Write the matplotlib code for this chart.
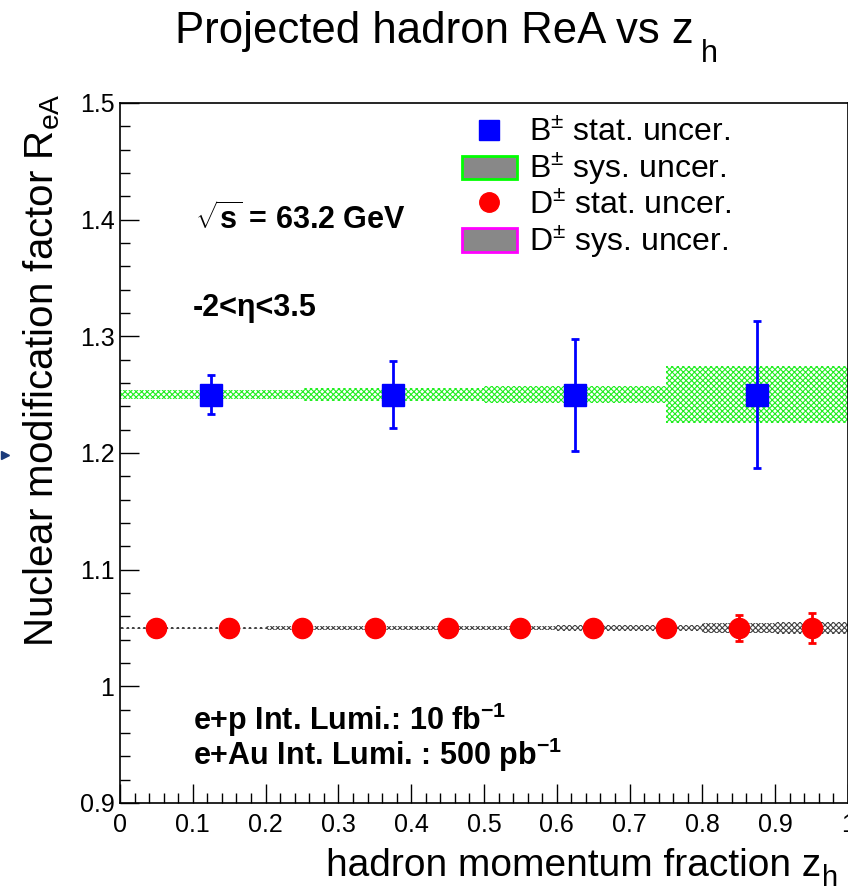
import numpy as np
import matplotlib
matplotlib.use("Agg")
import matplotlib.pyplot as plt
from matplotlib.patches import Rectangle, Patch
from matplotlib.lines import Line2D
from matplotlib.ticker import MultipleLocator

plt.rcParams['font.family'] = ['Liberation Sans', 'DejaVu Sans']
plt.rcParams['mathtext.fontset'] = 'custom'
plt.rcParams['mathtext.rm'] = 'Liberation Sans'
plt.rcParams['mathtext.it'] = 'Liberation Sans:italic'
plt.rcParams['mathtext.bf'] = 'Liberation Sans:bold'
plt.rcParams['hatch.linewidth'] = 0.8

# B meson points (4 bins of z_h)
b_edges = [0.0, 0.25, 0.5, 0.75, 1.0]
b_x = [0.125, 0.375, 0.625, 0.875]
b_y = [1.25, 1.25, 1.25, 1.25]
b_stat = [0.017, 0.029, 0.048, 0.063]
b_sys = [0.0038, 0.0055, 0.007, 0.0245]

# D meson points (10 bins of z_h)
d_edges = [0.0, 0.1, 0.2, 0.3, 0.4, 0.5, 0.6, 0.7, 0.8, 0.9, 1.0]
d_x = [0.05, 0.15, 0.25, 0.35, 0.45, 0.55, 0.65, 0.75, 0.85, 0.95]
d_y = [1.05] * 10
d_stat = [0.001, 0.001, 0.0015, 0.002, 0.002, 0.003, 0.004, 0.005, 0.0115, 0.0127]
d_sys = [0.0012, 0.0012, 0.0013, 0.0014, 0.0015, 0.0017, 0.0025, 0.0028, 0.0045, 0.0055]

fig = plt.figure(figsize=(8.48, 8.92), dpi=100)
ax = fig.add_axes([120/848, 1 - 803/892, 728/848, 700/892])

# systematic bands
for i in range(len(b_x)):
    lo, hi = b_edges[i], b_edges[i + 1]
    ax.add_patch(Rectangle((lo, b_y[i] - b_sys[i]), hi - lo, 2 * b_sys[i],
                           facecolor='white', edgecolor='#22ee22', hatch='xxxxxx',
                           linewidth=0, zorder=1))
for i in range(len(d_x)):
    lo, hi = d_edges[i], d_edges[i + 1]
    ax.add_patch(Rectangle((lo, d_y[i] - d_sys[i]), hi - lo, 2 * d_sys[i],
                           facecolor='white', edgecolor='#444444', hatch='xxxxxx',
                           linewidth=0, zorder=1))

# statistical points
ax.errorbar(b_x, b_y, yerr=b_stat, fmt='s', color='#0000ff', markersize=15.5,
            elinewidth=2, capsize=3, capthick=2, zorder=3)
ax.errorbar(d_x, d_y, yerr=d_stat, fmt='o', color='#ff0000', markersize=14.5,
            elinewidth=2, capsize=3, capthick=2, zorder=3)

ax.set_xlim(0, 1)
ax.set_ylim(0.9, 1.5)
ax.xaxis.set_major_locator(MultipleLocator(0.1))
ax.xaxis.set_minor_locator(MultipleLocator(0.02))
ax.yaxis.set_major_locator(MultipleLocator(0.1))
ax.yaxis.set_minor_locator(MultipleLocator(0.02))
ax.xaxis.set_major_formatter(plt.FuncFormatter(lambda v, p: ('%g' % round(v, 2))))
ax.yaxis.set_major_formatter(plt.FuncFormatter(lambda v, p: ('%g' % round(v, 2))))
ax.tick_params(which='both', direction='in', top=False, right=False, labelsize=18)
ax.tick_params(which='major', length=14, width=1)
ax.tick_params(which='minor', length=7, width=1)
ax.tick_params(axis='x', pad=7)
ax.tick_params(axis='y', pad=4)
for s in ax.spines.values():
    s.set_linewidth(1.2)

# title and axis titles, subscripts set low as ROOT does
fig.text(175/848, 1 - 43/892, 'Projected hadron ReA vs z', ha='left',
         va='baseline', fontsize=31.5)
fig.text(701/848, 1 - 62/892, 'h', ha='left', va='baseline', fontsize=22)
fig.text(42/848, 1 - 93/892, 'Nuclear modification factor R$_{\\mathrm{eA}}$', rotation=90,
         ha='center', va='top', fontsize=29)
fig.text(821/848, 1 - 876/892, 'hadron momentum fraction z', ha='right',
         va='baseline', fontsize=28)
fig.text(822/848, 1 - 886/892, 'h', ha='left', va='baseline', fontsize=21)

ax.text(0.103, 1.4, r'$\sqrt{\mathbf{s}}$ = 63.2 GeV', fontsize=22, fontweight='bold',
        va='center')
ax.text(0.1, 1.324, '-2<η<3.5', fontsize=22, fontweight='bold', va='center')
ax.text(0.1, 0.971, 'e+p Int. Lumi.: 10 fb$^{\\mathbf{-1}}$', fontsize=22,
        fontweight='bold', va='center')
ax.text(0.1, 0.941, 'e+Au Int. Lumi. : 500 pb$^{\\mathbf{-1}}$', fontsize=22,
        fontweight='bold', va='center')

# legend
handles = [
    Line2D([], [], marker='s', color='#0000ff', linestyle='none', markersize=14),
    Patch(facecolor='#888888', edgecolor='#00ff00', linewidth=2),
    Line2D([], [], marker='o', color='#ff0000', linestyle='none', markersize=14),
    Patch(facecolor='#888888', edgecolor='#ff00ff', linewidth=2),
]
labels = ['B$^{\\pm}$ stat. uncer.', 'B$^{\\pm}$ sys. uncer.',
          'D$^{\\pm}$ stat. uncer.', 'D$^{\\pm}$ sys. uncer.']
ax.legend(handles, labels, loc='upper left', bbox_to_anchor=(342/728, 1 - 15/700),
          frameon=False, fontsize=23, handlelength=1.72, handleheight=0.75,
          handletextpad=0.37, labelspacing=0.1, borderaxespad=0, borderpad=0)

# stray arrow fragment at left edge
fig.add_artist(Line2D([5/848], [1 - 455/892], marker='>', color='#1a3a7a',
                      markersize=6, linestyle='none'))

fig.savefig('out.png', dpi=100)
